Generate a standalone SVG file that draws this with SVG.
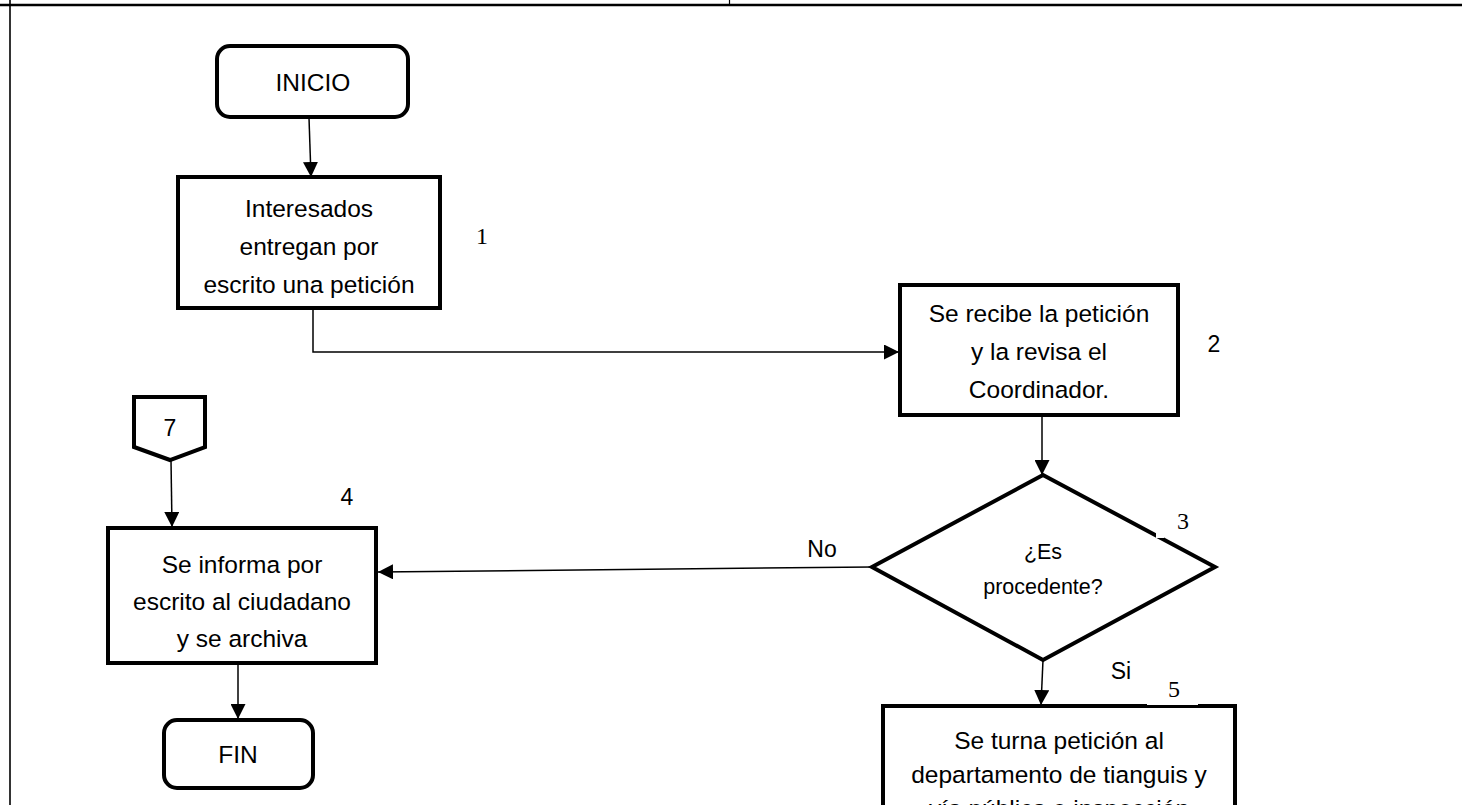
<svg xmlns="http://www.w3.org/2000/svg" width="1462" height="805" viewBox="0 0 1462 805">
<defs>
<marker id="ah" viewBox="0 0 10 10" refX="10" refY="5" markerWidth="15" markerHeight="15" markerUnits="userSpaceOnUse" orient="auto">
<path d="M0,0 L10,5 L0,10 z" fill="#000"/>
</marker>
</defs>
<style>
.box{fill:#fff;stroke:#000;stroke-width:4}
.t{font-family:"Liberation Sans",Arial,sans-serif;font-size:24.5px;fill:#000;text-anchor:middle}
.n{font-family:"Liberation Serif","Times New Roman",serif;font-size:24px;fill:#000;text-anchor:middle}
.ns{font-family:"Liberation Sans",Arial,sans-serif;font-size:23px;fill:#000;text-anchor:middle}
.c{fill:none;stroke:#000;stroke-width:1.5;marker-end:url(#ah)}
.frame{stroke:#000;fill:none}
</style>
<rect width="1462" height="805" fill="#fff"/>
<g id="frame">
<line class="frame" x1="0" y1="5" x2="1462" y2="5" stroke-width="2.4"/>
<line class="frame" x1="10" y1="0" x2="10" y2="805" stroke-width="1.6"/>
<line class="frame" x1="729.5" y1="0" x2="729.5" y2="5" stroke-width="1.2"/>
</g>
<g id="connectors">
<path class="c" d="M309,118 L311,177"/>
<path class="c" d="M313,308 L313,352 L899,352"/>
<path class="c" d="M1042,415 L1042,475"/>
<path class="c" d="M872,567 L378,572"/>
<path class="c" d="M171,460 L172,527"/>
<path class="c" d="M238,663 L238,719"/>
<path class="c" d="M1043,660 L1041,705"/>
</g>
<g id="inicio">
<rect class="box" x="217" y="46" width="191" height="71" rx="13"/>
<text class="t" x="313" y="91">INICIO</text>
</g>
<g id="paso1">
<rect class="box" x="178" y="177" width="262" height="131"/>
<text class="t" x="309" y="217">Interesados</text>
<text class="t" x="309" y="255">entregan por</text>
<text class="t" x="309" y="293">escrito una petición</text>
<text class="n" x="482" y="244">1</text>
</g>
<g id="paso2">
<rect class="box" x="900" y="285" width="278" height="130"/>
<text class="t" x="1039" y="322">Se recibe la petición</text>
<text class="t" x="1039" y="360">y la revisa el</text>
<text class="t" x="1039" y="398">Coordinador.</text>
<text class="ns" x="1214" y="352">2</text>
</g>
<g id="paso3">
<polygon class="box" points="1043,475 1215,567 1043,660 872,567"/>
<rect x="1156" y="533" width="8" height="5" fill="#fff"/>
<text class="t" style="font-size:21.5px" x="1043" y="559">¿Es</text>
<text class="t" style="font-size:21.5px" x="1043" y="594">procedente?</text>
<text class="n" x="1183" y="529">3</text>
<text class="ns" x="822" y="557">No</text>
<text class="ns" x="1121" y="679">Si</text>
</g>
<g id="conector7">
<polygon class="box" points="134,397 205,397 205,447 170,460 134,447"/>
<text class="ns" x="170" y="436">7</text>
</g>
<g id="paso4">
<rect class="box" x="108" y="528" width="268" height="135"/>
<text class="t" x="242" y="573">Se informa por</text>
<text class="t" x="242" y="610">escrito al ciudadano</text>
<text class="t" x="242" y="647">y se archiva</text>
<text class="ns" x="347" y="505">4</text>
</g>
<g id="fin">
<rect class="box" x="164" y="720" width="149" height="68" rx="13"/>
<text class="t" x="238" y="763">FIN</text>
</g>
<g id="paso5">
<rect class="box" x="883" y="706" width="352" height="120"/>
<rect x="1147" y="700" width="51" height="5" fill="#fff"/>
<text class="t" x="1059" y="749">Se turna petición al</text>
<text class="t" x="1059" y="783">departamento de tianguis y</text>
<text class="t" x="1059" y="817">vía pública e inspección</text>
<text class="n" x="1174" y="697">5</text>
</g>
</svg>
